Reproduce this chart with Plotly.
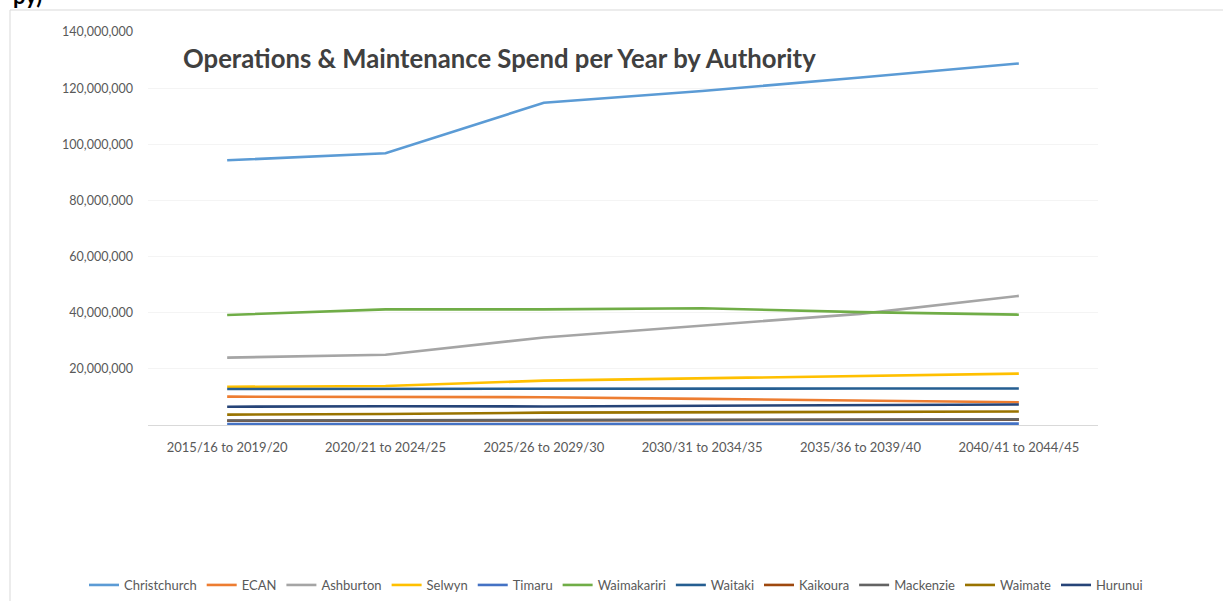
import plotly.graph_objects as go

# Five-year planning periods
periods = ["2015/16 to 2019/20", "2020/21 to 2024/25", "2025/26 to 2029/30",
           "2030/31 to 2034/35", "2035/36 to 2039/40", "2040/41 to 2044/45"]

# Operations & maintenance spend per year, NZ$
christchurch = [94_300_000, 96_800_000, 114_800_000, 119_000_000, 123_800_000, 128_800_000]
ecan         = [10_100_000, 10_100_000, 9_900_000, 9_300_000, 8_600_000, 8_100_000]
ashburton    = [24_000_000, 25_000_000, 31_200_000, 35_500_000, 39_600_000, 46_000_000]
selwyn       = [13_600_000, 13_900_000, 15_800_000, 16_700_000, 17_500_000, 18_300_000]
timaru       = [300_000, 300_000, 300_000, 400_000, 400_000, 500_000]
waimakariri  = [39_200_000, 41_200_000, 41_200_000, 41_600_000, 40_200_000, 39_300_000]
waitaki      = [12_800_000, 12_900_000, 12_900_000, 13_000_000, 13_000_000, 13_000_000]
kaikoura     = [1_500_000, 1_600_000, 1_700_000, 1_800_000, 1_800_000, 1_900_000]
mackenzie    = [1_600_000, 1_700_000, 1_800_000, 1_900_000, 1_900_000, 2_000_000]
waimate      = [3_700_000, 3_900_000, 4_400_000, 4_600_000, 4_600_000, 4_800_000]
hurunui      = [6_500_000, 6_700_000, 6_600_000, 6_800_000, 7_000_000, 7_300_000]

series = [
    ("Christchurch", christchurch, "#5B9BD5"),
    ("ECAN", ecan, "#ED7D31"),
    ("Ashburton", ashburton, "#A5A5A5"),
    ("Selwyn", selwyn, "#FFC000"),
    ("Timaru", timaru, "#4472C4"),
    ("Waimakariri", waimakariri, "#70AD47"),
    ("Waitaki", waitaki, "#255E91"),
    ("Kaikoura", kaikoura, "#9E480E"),
    ("Mackenzie", mackenzie, "#636363"),
    ("Waimate", waimate, "#997300"),
    ("Hurunui", hurunui, "#264478"),
]

y_ticks = [20_000_000, 40_000_000, 60_000_000, 80_000_000,
           100_000_000, 120_000_000, 140_000_000]

W, H = 1223, 601
ML, MR, MT, MB = 148, 125, 32, 176
PW, PH = W - ML - MR, H - MT - MB


def px_x(p):
    return (p - ML) / PW


def px_y(p):
    return (H - MB - p) / PH


fig = go.Figure()
for name, vals, color in series:
    fig.add_trace(go.Scatter(
        x=periods, y=vals, name=name, mode="lines",
        line=dict(color=color, width=2.6),
    ))

font_family = "Lato, 'Open Sans', sans-serif"

fig.update_layout(
    width=W, height=H,
    margin=dict(l=ML, r=MR, t=MT, b=MB, autoexpand=False),
    paper_bgcolor="white", plot_bgcolor="white",
    font=dict(family=font_family, color="#595959"),
    showlegend=True,
    legend=dict(
        orientation="h", x=px_x(84), xanchor="left",
        y=px_y(585), yanchor="middle",
        font=dict(size=13, color="#595959"),
        itemwidth=30, tracegroupgap=0, bgcolor="rgba(0,0,0,0)",
    ),
    xaxis=dict(
        type="category", range=[-0.5, 5.5],
        showgrid=False, showline=True, linecolor="#D9D9D9", linewidth=1,
        ticks="", tickfont=dict(size=13, color="#595959"),
        ticklabelstandoff=10, zeroline=False,
    ),
    yaxis=dict(
        range=[0, 140_000_000], tickvals=y_ticks, tickformat=",",
        showgrid=True, gridcolor="#F4F4F4", gridwidth=1,
        showline=False, zeroline=False, ticks="",
        tickfont=dict(size=12.5, color="#595959"),
        ticklabelstandoff=14,
    ),
    annotations=[
        dict(
            text="<b>Operations & Maintenance Spend per Year by Authority</b>",
            xref="paper", yref="paper", x=px_x(499), y=px_y(58),
            xanchor="center", yanchor="middle", showarrow=False,
            font=dict(size=25.7, color="#404040", family=font_family),
        ),
        dict(
            text="<b>py)</b>",
            xref="paper", yref="paper", x=px_x(11), y=px_y(-5),
            xanchor="left", yanchor="middle", showarrow=False,
            font=dict(size=22, color="#000000", family=font_family),
        ),
    ],
    shapes=[
        dict(type="rect", xref="paper", yref="paper",
             x0=px_x(10), x1=px_x(W + 5), y0=px_y(H + 5), y1=px_y(10),
             line=dict(color="#D9D9D9", width=1), fillcolor="rgba(0,0,0,0)",
             layer="below"),
    ],
)

fig.write_html("out.html")
